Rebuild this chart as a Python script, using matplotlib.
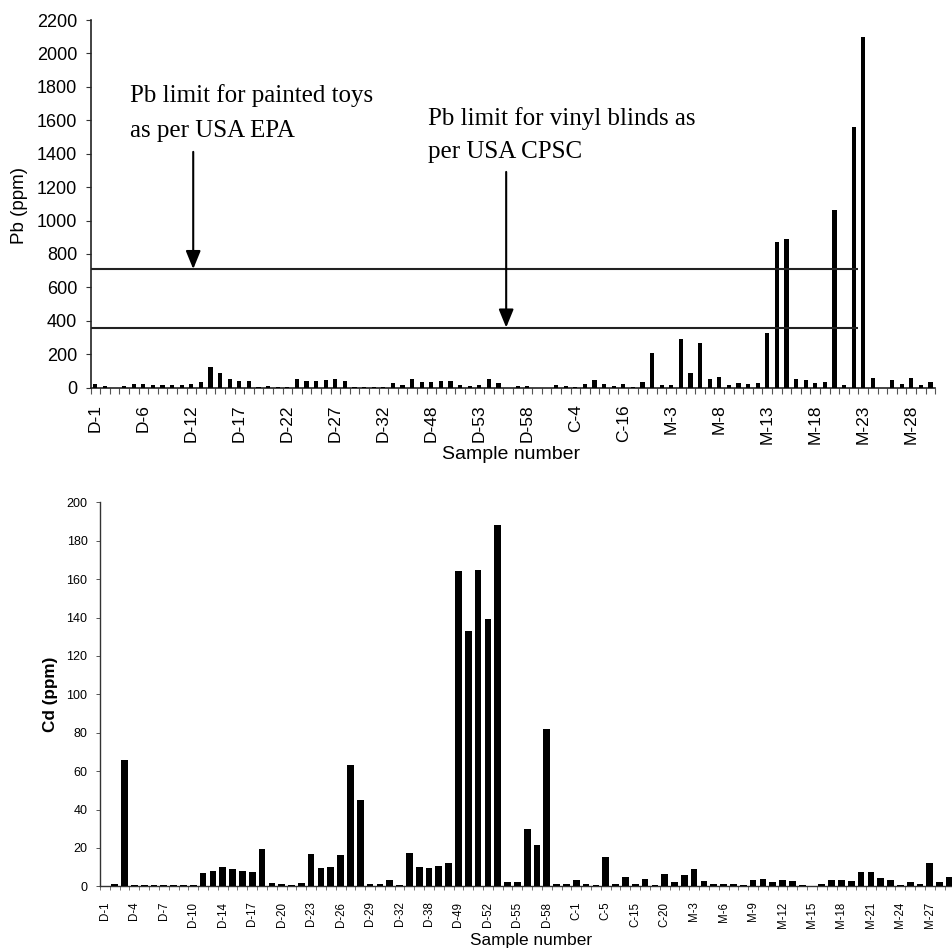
import matplotlib
matplotlib.use("Agg")
import matplotlib.pyplot as plt
import numpy as np

# ---------------- data ----------------
samples = (
    [f"D-{i}" for i in range(1, 11)]
    + [f"D-{i}" for i in range(12, 33)]
    + ["D-33", "D-35", "D-38", "D-45"]
    + [f"D-{i}" for i in range(48, 59)]
    + ["D-59", "D-60"]
    + ["C-1", "C-3", "C-4", "C-5", "C-8", "C-12", "C-15", "C-16", "C-18", "C-20"]
    + ["M-1", "M-2"]
    + [f"M-{i}" for i in range(3, 31)]
)

pb_ppm = [
    24, 10, 0, 10, 22, 20, 14, 14, 14, 14,
    22, 32, 122, 85, 52, 42, 38, 2, 10, 2,
    2, 50, 42, 38, 48, 50, 42, 6, 4, 6,
    4, 26, 18, 54, 36, 36, 38, 38, 16, 10,
    16, 54, 28, 0, 10, 10, 0, 0, 14, 8,
    4, 20, 48, 24, 12, 20, 6, 32, 210, 14,
    14, 290, 90, 270, 50, 62, 14, 28, 24, 28,
    330, 874, 888, 54, 48, 30, 37, 1064, 16, 1560,
    2100, 56, 0, 46, 22, 60, 14, 36,
]

cd_ppm = [
    0, 1.4, 66, 0.9, 0.9, 0.9, 0.9, 0.9, 0.9, 0.9,
    7.0, 7.8, 9.9, 9.2, 8.2, 7.5, 19.5, 1.6, 1.4, 0.7,
    1.7, 16.9, 9.7, 10.1, 16.2, 63, 45, 1.4, 1.4, 3.1,
    0.7, 17.2, 9.9, 9.7, 10.8, 12.3, 164, 133, 165, 139,
    188, 2.1, 2.1, 29.6, 21.6, 82, 1.2, 1.2, 3.5, 1.2,
    0.9, 15.3, 1.2, 4.9, 1.2, 3.7, 0.9, 6.6, 2.1, 5.9,
    9.2, 2.8, 1.0, 1.0, 1.0, 0.9, 3.1, 3.8, 2.1, 3.5,
    2.8, 0.9, 0, 1.4, 3.1, 3.5, 3.0, 7.3, 7.5, 4.2,
    3.5, 0.9, 2.4, 1.4, 12.3, 2.1, 5.0, 0,
]

pb_limits = [710, 360]          # EPA painted toys, CPSC vinyl blinds
pb_limit_end_sample = "M-22"    # limit lines stop just before M-23
pb_label_step = 5
cd_label_step = 3
pb_yticks = list(range(0, 2201, 200))
cd_yticks = list(range(0, 201, 20))

assert len(samples) == len(pb_ppm) == len(cd_ppm) == 88

# ---------------- figure ----------------
W, H = 952, 950
fig = plt.figure(figsize=(W / 100, H / 100), dpi=100)
fig.patch.set_facecolor("white")

sans = "Liberation Sans"
serif = "Liberation Serif"

def px(x, y):
    return x / W, 1 - y / H

n = len(samples)
x = np.arange(n)

# ---------- top (Pb) ----------
ax1 = fig.add_axes([90.5 / W, (H - 387.7) / H, 844.8 / W, (387.7 - 20) / H])
ax1.bar(x, pb_ppm, width=0.45, color="black", zorder=3)
ax1.set_xlim(-0.5, n - 0.5)
ax1.set_ylim(0, 2200)
ax1.set_yticks(pb_yticks)
ax1.set_yticklabels([str(v) for v in pb_yticks], fontfamily=sans, fontsize=13)
lab_idx = list(range(0, n, pb_label_step))
ax1.set_xticks(lab_idx)
ax1.set_xticklabels([samples[i] for i in lab_idx], rotation=90,
                    fontfamily=sans, fontsize=12.5)
ax1.set_xticks(np.arange(-0.5, n, 1), minor=True)
ax1.tick_params(axis="x", which="major", length=0, pad=12)
ax1.tick_params(axis="x", which="minor", length=4, width=0.8, color="#555555")
ax1.tick_params(axis="y", length=3.5, width=0.8, pad=6, color="#333333")
for s in ["top", "right"]:
    ax1.spines[s].set_visible(False)
for s in ["left", "bottom"]:
    ax1.spines[s].set_color("#222222")
    ax1.spines[s].set_linewidth(1.2)

end_x = samples.index(pb_limit_end_sample) + 0.5
for lim in pb_limits:
    ax1.hlines(lim, -0.5, end_x, color="#222222", linewidth=1.5, zorder=4)

arrow_kw = dict(arrowstyle="-|>,head_length=1.1,head_width=0.45",
                color="black", lw=1.5, shrinkA=0, shrinkB=0)
ax1.annotate("", xy=(10.2, pb_limits[0]), xytext=(10.2, 1411),
             arrowprops=arrow_kw, zorder=5)
ax1.annotate("", xy=(42.8, pb_limits[1]), xytext=(42.8, 1291),
             arrowprops=arrow_kw, zorder=5)

fig.text(*px(130, 102), "Pb limit for painted toys", fontfamily=serif,
         fontsize=18, va="baseline", ha="left")
fig.text(*px(130, 137), "as per USA EPA", fontfamily=serif,
         fontsize=18, va="baseline", ha="left")
fig.text(*px(428, 125), "Pb limit for vinyl blinds as", fontfamily=serif,
         fontsize=18, va="baseline", ha="left")
fig.text(*px(428, 158), "per USA CPSC", fontfamily=serif,
         fontsize=18, va="baseline", ha="left")

fig.text(*px(20, 206), "Pb (ppm)", rotation=90, fontfamily=sans,
         fontsize=13.5, ha="center", va="center")
fig.text(*px(511, 455), "Sample number", fontfamily=sans,
         fontsize=14, ha="center", va="center")

# ---------- bottom (Cd) ----------
ax2 = fig.add_axes([100 / W, (H - 886.3) / H, 864.2 / W, (886.3 - 502.3) / H])
ax2.bar(x, cd_ppm, width=0.68, color="black", zorder=3)
ax2.set_xlim(-0.5, n - 0.5)
ax2.set_ylim(0, 200)
ax2.set_yticks(cd_yticks)
ax2.set_yticklabels([str(v) for v in cd_yticks], fontfamily=sans, fontsize=9)
lab_idx2 = list(range(0, n, cd_label_step))
ax2.set_xticks(lab_idx2)
ax2.set_xticklabels([samples[i] for i in lab_idx2], rotation=90,
                    fontfamily=sans, fontsize=8.3)
ax2.set_xticks(np.arange(-0.5, n, 1), minor=True)
ax2.tick_params(axis="x", which="major", length=0, pad=11)
ax2.tick_params(axis="x", which="minor", length=3, width=0.7, color="#777777")
ax2.tick_params(axis="y", length=3, width=0.7, pad=6, color="#555555")
for s in ["top", "right"]:
    ax2.spines[s].set_visible(False)
for s in ["left", "bottom"]:
    ax2.spines[s].set_color("#333333")
    ax2.spines[s].set_linewidth(1.0)

fig.text(*px(50, 694), "Cd (ppm)", rotation=90, fontfamily=sans,
         fontsize=12.3, fontweight="bold", ha="center", va="center")
fig.text(*px(531, 941), "Sample number", fontfamily=sans,
         fontsize=12.4, ha="center", va="center")

fig.savefig("out.png", dpi=100, facecolor="white")
